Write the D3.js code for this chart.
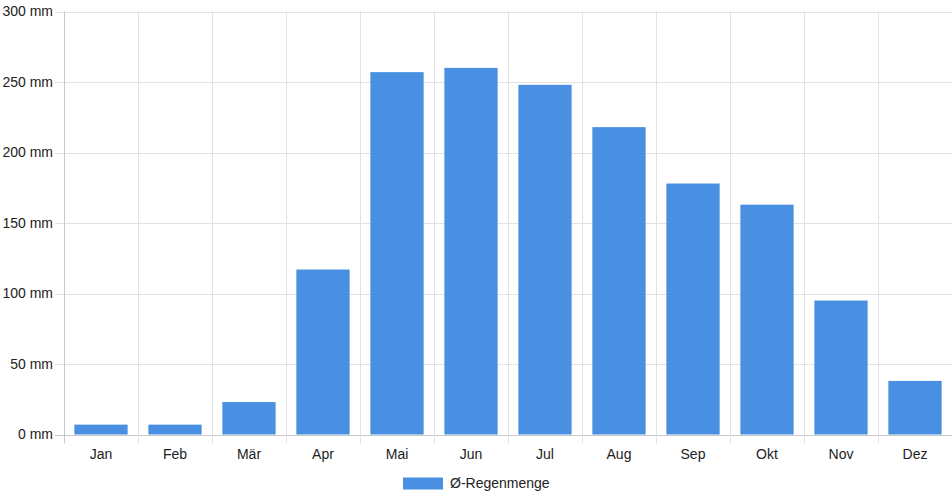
<!DOCTYPE html>
<html>
<head>
<meta charset="utf-8">
<script src="https://cdn.jsdelivr.net/npm/d3@7"></script>
<style>
  body { margin: 0; background: #fff; }
  text { font-family: "Liberation Sans", Arial, sans-serif; font-size: 14px; fill: #222; }
</style>
</head>
<body>
<div id="chart"></div>
<script>
// Monthly rainfall data
var months = ['Jan', 'Feb', 'Mär', 'Apr', 'Mai', 'Jun', 'Jul', 'Aug', 'Sep', 'Okt', 'Nov', 'Dez'];
var rainfall = [7, 7, 23, 117, 257, 260, 248, 218, 178, 163, 95, 38];
var yTicks = [0, 50, 100, 150, 200, 250, 300];
var seriesName = 'Ø-Regenmenge';

var W = 952, H = 500;
var plotLeft = 64, plotRight = 952, plotTop = 11.5, plotBottom = 434.5;

var svg = d3.select('#chart')
            .append('svg')
            .attr('width', W)
            .attr('height', H);

var x = d3.scaleBand()
          .domain(months)
          .range([plotLeft, plotRight]);

var y = d3.scaleLinear()
          .domain([0, 300])
          .range([plotBottom, plotTop]);

var barW = x.bandwidth() * 0.72;

// horizontal grid lines (with tick stubs to the left)
svg.append('g')
   .selectAll('line')
   .data(yTicks)
   .enter()
   .append('line')
   .attr('x1', plotLeft - 9)
   .attr('x2', plotRight)
   .attr('y1', function(d) { return Math.round(y(d)) + 0.5; })
   .attr('y2', function(d) { return Math.round(y(d)) + 0.5; })
   .attr('stroke', function(d) { return d === 0 ? '#c8c8c8' : '#e2e2e2'; })
   .attr('stroke-width', 1);

// vertical grid lines at category boundaries
svg.append('g')
   .selectAll('line')
   .data(months)
   .enter()
   .append('line')
   .attr('x1', function(d) { return Math.round(x(d)) + 0.5; })
   .attr('x2', function(d) { return Math.round(x(d)) + 0.5; })
   .attr('y1', plotTop)
   .attr('y2', plotBottom + 9)
   .attr('stroke', function(d, i) { return i === 0 ? '#c8c8c8' : '#e2e2e2'; })
   .attr('stroke-width', 1);

// y tick labels
svg.append('g')
   .selectAll('text')
   .data(yTicks)
   .enter()
   .append('text')
   .attr('x', plotLeft - 11)
   .attr('y', function(d) { return y(d); })
   .attr('dy', '0.35em')
   .attr('text-anchor', 'end')
   .text(function(d) { return d + ' mm'; });

// x tick labels
svg.append('g')
   .selectAll('text')
   .data(months)
   .enter()
   .append('text')
   .attr('x', function(d) { return x(d) + x.bandwidth() / 2; })
   .attr('y', plotBottom + 24)
   .attr('text-anchor', 'middle')
   .text(function(d) { return d; });

// bars
svg.append('g')
   .selectAll('rect')
   .data(rainfall)
   .enter()
   .append('rect')
   .attr('x', function(d, i) { return x(months[i]) + (x.bandwidth() - barW) / 2; })
   .attr('y', function(d) { return y(d); })
   .attr('width', barW)
   .attr('height', function(d) { return plotBottom - y(d); })
   .attr('fill', '#4a90e2');

// legend
var legend = svg.append('g');
legend.append('rect')
      .attr('x', 403)
      .attr('y', 477.5)
      .attr('width', 40)
      .attr('height', 12)
      .attr('fill', '#4a90e2');
legend.append('text')
      .attr('x', 450)
      .attr('y', 483.5)
      .attr('dy', '0.35em')
      .text(seriesName);
</script>
</body>
</html>
